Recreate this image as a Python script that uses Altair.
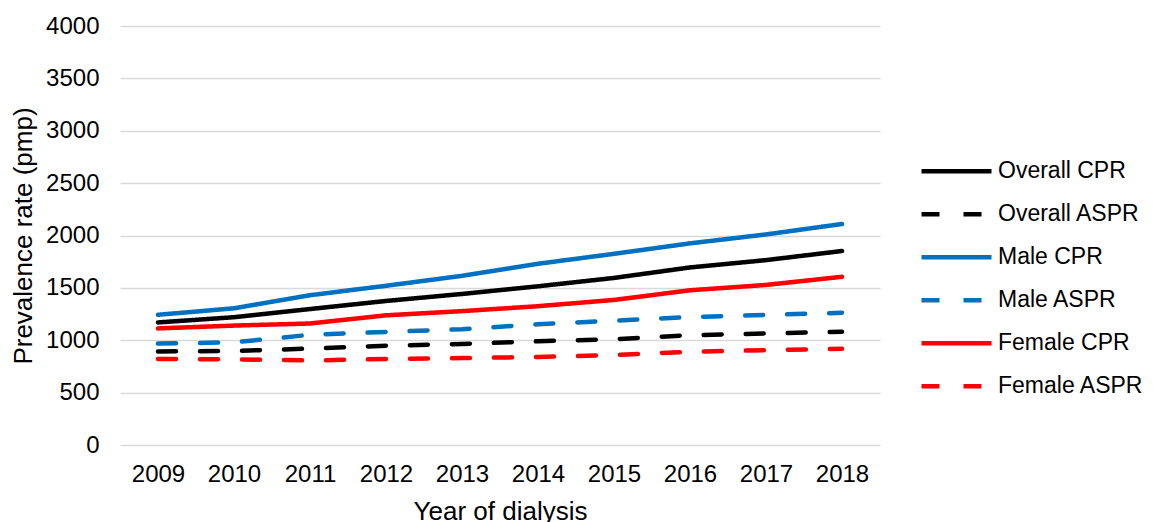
import altair as alt
import pandas as pd

years = ["2009", "2010", "2011", "2012", "2013", "2014", "2015", "2016", "2017", "2018"]
series_names = ["Overall CPR", "Overall ASPR", "Male CPR", "Male ASPR", "Female CPR", "Female ASPR"]
overall_cpr = [1170, 1220, 1298, 1375, 1442, 1515, 1595, 1695, 1765, 1852]
overall_aspr = [893, 898, 920, 948, 965, 990, 1010, 1048, 1065, 1081]
male_cpr = [1243, 1305, 1430, 1520, 1615, 1730, 1825, 1925, 2010, 2110]
male_aspr = [968, 980, 1052, 1080, 1105, 1153, 1186, 1222, 1242, 1262]
female_cpr = [1113, 1140, 1160, 1238, 1278, 1325, 1385, 1477, 1528, 1606]
female_aspr = [821, 818, 807, 821, 830, 840, 858, 890, 905, 919]

series_colors = ["#000000", "#000000", "#0070C0", "#0070C0", "#FF0000", "#FF0000"]
series_dashes = [[1, 0], [18, 24], [1, 0], [18, 24], [1, 0], [18, 24]]

values = [overall_cpr, overall_aspr, male_cpr, male_aspr, female_cpr, female_aspr]
rows = []
for name, vals in zip(series_names, values):
    for y, v in zip(years, vals):
        rows.append({"series": name, "year": y, "value": v})
df = pd.DataFrame(rows)

FONT = "Liberation Sans"

legend_opts = dict(
    title=None,
    orient="none",
    legendX=799,
    legendY=124,
    symbolType="stroke",
    symbolSize=4900,
    symbolStrokeWidth=4.5,
    labelFontSize=23,
    labelOffset=4,
    clipHeight=42.5,
    rowPadding=0,
    labelLimit=300,
)

chart = (
    alt.Chart(df)
    .mark_line(strokeWidth=4.5, strokeCap="round", strokeJoin="round")
    .encode(
        x=alt.X(
            "year:O",
            sort=years,
            scale=alt.Scale(padding=0.5),
            axis=alt.Axis(
                title="Year of dialysis",
                labelAngle=0,
                ticks=False,
                domain=False,
                grid=False,
                labelFontSize=24,
                labelPadding=17,
                titleFontSize=26,
                titleFontWeight="normal",
                titlePadding=12,
            ),
        ),
        y=alt.Y(
            "value:Q",
            scale=alt.Scale(domain=[0, 4000], nice=False),
            axis=alt.Axis(
                title="Prevalence rate (pmp)",
                values=[0, 500, 1000, 1500, 2000, 2500, 3000, 3500, 4000],
                format="d",
                ticks=False,
                domain=False,
                gridColor="#D9D9D9",
                gridWidth=1.3,
                labelFontSize=24,
                labelPadding=21,
                titleFontSize=26,
                titleFontWeight="normal",
                titlePadding=9,
            ),
        ),
        color=alt.Color(
            "series:N",
            sort=series_names,
            scale=alt.Scale(domain=series_names, range=series_colors),
            legend=alt.Legend(**legend_opts),
        ),
        strokeDash=alt.StrokeDash(
            "series:N",
            sort=series_names,
            scale=alt.Scale(domain=series_names, range=series_dashes),
            legend=alt.Legend(**legend_opts),
        ),
    )
    .properties(
        width=760,
        height=419,
        autosize=alt.AutoSizeParams(type="none"),
        padding={"left": 112, "top": 18, "right": 265, "bottom": 80},
    )
    .configure(font=FONT)
    .configure_axis(labelColor="#000000", titleColor="#000000", labelFont=FONT, titleFont=FONT)
    .configure_legend(labelColor="#000000", labelFont=FONT, padding=0)
    .configure_view(stroke=None)
)

chart.save("out.html", embed_options={"renderer": "svg", "actions": False})
